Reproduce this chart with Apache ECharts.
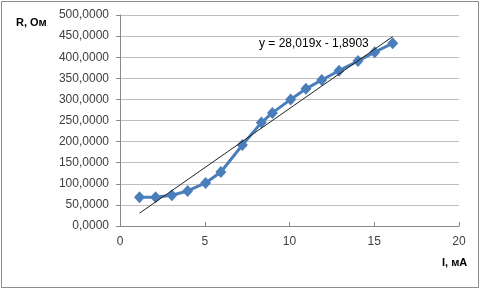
<!DOCTYPE html>
<html>
<head>
<meta charset="utf-8">
<script src="https://cdn.jsdelivr.net/npm/echarts@6/dist/echarts.min.js"></script>
<style>
html,body{margin:0;padding:0;background:#fff;}
#c{width:481px;height:289px;}
</style>
</head>
<body>
<div id="c"></div>
<script>
// Data
const currentMA = [1.15, 2.1, 3.06, 3.99, 5.05, 5.95, 7.22, 8.34, 8.99, 10.07, 10.97, 11.9, 12.92, 14.04, 15.03, 16.09];
const resistance = [68, 68, 73, 83, 102, 128, 192, 245, 268, 300, 325, 346, 368, 391, 412, 433];
const trendSlope = 28.019;
const trendIntercept = -1.8903;
const trendLabel = 'y = 28,019x - 1,8903';
const xTicks = [0, 5, 10, 15, 20];
const yAxisName = 'R, Ом';
const xAxisName = 'I, мА';

const xMin = Math.min(...currentMA), xMax = Math.max(...currentMA);
const trendData = [[xMin, trendSlope * xMin + trendIntercept], [xMax, trendSlope * xMax + trendIntercept]];

const chart = echarts.init(document.getElementById('c'), null, {renderer: 'canvas'});
const font = 'Liberation Sans';
chart.setOption({
  animation: false,
  backgroundColor: '#fff',
  grid: {left: 120, top: 15, width: 339, height: 211, containLabel: false},
  xAxis: {
    type: 'value', min: 0, max: 20, interval: 5,
    axisLine: {show: true, lineStyle: {color: '#888', width: 1}},
    axisTick: {show: true, inside: true, length: 4, lineStyle: {color: '#888'}},
    axisLabel: {color: '#404040', fontFamily: font, fontSize: 12, margin: 10},
    splitLine: {show: false}
  },
  yAxis: {
    type: 'value', min: 0, max: 500, interval: 50,
    axisLine: {show: true, lineStyle: {color: '#888', width: 1}},
    axisTick: {show: true, length: 4, lineStyle: {color: '#888'}},
    axisLabel: {color: '#404040', fontFamily: font, fontSize: 12, margin: 11,
      formatter: v => v.toFixed(4).replace('.', ',')},
    splitLine: {show: true, lineStyle: {color: '#bfbfbf', width: 1}}
  },
  series: [
    {
      type: 'line',
      data: currentMA.map((x, i) => [x, resistance[i]]),
      symbol: 'diamond', symbolSize: [11, 12],
      itemStyle: {color: '#4a7ebb'},
      lineStyle: {color: '#4a7ebb', width: 3},
      z: 3
    },
    {
      type: 'line',
      data: trendData,
      symbol: 'none',
      lineStyle: {color: '#222', width: 1},
      z: 4
    }
  ],
  graphic: [
    {type: 'rect', shape: {x: 1.5, y: 1.5, width: 477, height: 286}, style: {fill: 'none', stroke: '#8c8c8c', lineWidth: 1}, silent: true},
    {type: 'text', left: 16, top: 17, style: {text: yAxisName, font: 'bold 11px "Liberation Sans"', fill: '#000'}},
    {type: 'text', left: 442, top: 257, style: {text: xAxisName, font: 'bold 11px "Liberation Sans"', fill: '#000'}},
    {type: 'text', left: 259, top: 38, style: {text: trendLabel, font: '12px "Liberation Sans"', fill: '#000'}}
  ]
});
</script>
</body>
</html>
